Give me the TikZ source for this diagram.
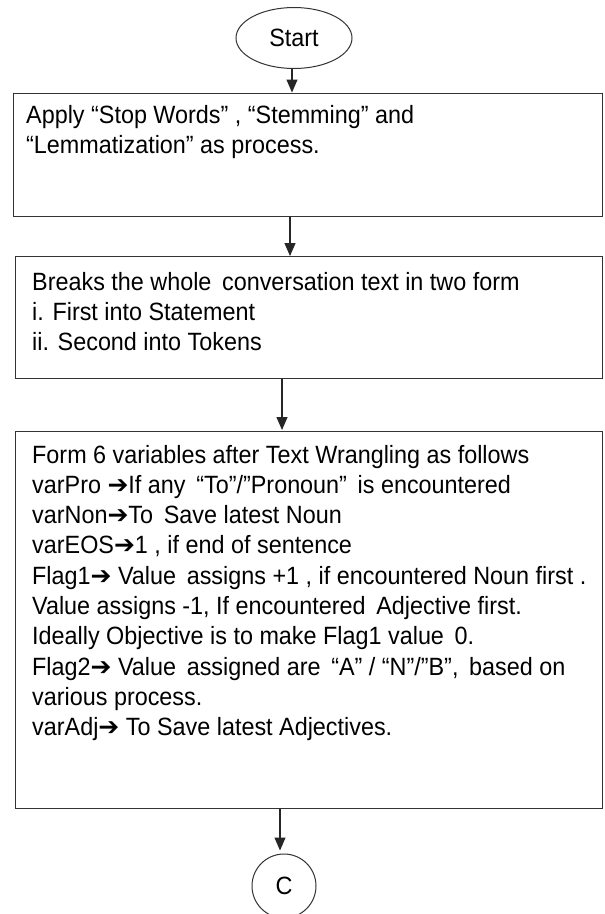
\documentclass[tikz,border=0pt]{standalone}
\usepackage{fontspec}
\setmainfont[FakeStretch=0.935]{Liberation Sans}
\newfontfamily\symf{DejaVu Sans}
\usetikzlibrary{shapes.geometric,arrows.meta}
\newcommand{\rarr}{{\symf\bfseries\char"2794}}
\newcommand{\mainsz}{\fontsize{25}{30.3}\selectfont}
\tikzset{
  procbox/.style={draw=black!80, line width=1.4pt, rectangle, inner sep=0pt},
  flowarrow/.style={draw=black!85, line width=1.2pt, -{Triangle[width=11pt,length=13pt]}},
  txt/.style={anchor=base west, inner sep=0pt, font=\mainsz},
  termshape/.style={draw=black!80, line width=1pt, ellipse, inner sep=0pt, font=\fontsize{25}{28}\selectfont},
  connshape/.style={draw=black!80, line width=1pt, circle, inner sep=0pt, font=\fontsize{25}{28}\selectfont}
}
\begin{document}
\begin{tikzpicture}[x=1pt,y=-1pt]
\useasboundingbox (0,0) rectangle (605,914);
\fill[white] (0,0) rectangle (605,914);

\node[termshape, minimum width=116pt, minimum height=61pt] (start) at (294,38) {Start};

\node[procbox, anchor=north west, minimum width=589pt, minimum height=123pt] (b1) at (13,92.5) {};
\node[txt] (t1) at (26,123) {\parbox[t]{570pt}{\mainsz Apply “Stop Words” , “Stemming” and\\
“Lemmatization” as process.}};

\node[procbox, anchor=north west, minimum width=587pt, minimum height=122pt] (b2) at (15,256) {};
\node[txt] (t2) at (32,290) {\parbox[t]{565pt}{\mainsz Breaks the whole\, conversation text in two form\\
i. First into Statement\\
ii. Second into Tokens}};

\node[procbox, anchor=north west, minimum width=587pt, minimum height=377pt] (b3) at (15,431) {};
\node[txt] (t3) at (32,463) {\parbox[t]{568pt}{\mainsz Form 6 variables after Text Wrangling as follows\\
varPro \rarr If any \,“To”/”Pronoun”\, is encountered\\
varNon\rarr To\, Save latest Noun\\
varEOS\rarr 1 , if end of sentence\\
Flag1\rarr\ Value\, assigns +1 , if encountered Noun first .\\
Value assigns -1, If encountered\, Adjective first.\\
Ideally Objective is to make Flag1 value\, 0.\\
Flag2\rarr\ Value\, assigned are\, “A” / “N”/”B”,\, based on\\
various process.\\
varAdj\rarr\ To Save latest Adjectives.}};

\node[connshape, minimum size=64pt] (c) at (284,886) {C};

\coordinate (x12) at (290,0);
\coordinate (x23) at (282,0);
\coordinate (x3c) at (280,0);

\draw[flowarrow] (start.south -| 292,0) -- (b1.north -| 292,0);
\draw[flowarrow] (b1.south -| x12) -- (b2.north -| x12);
\draw[flowarrow, shorten >=1pt] (b2.south -| x23) -- (b3.north -| x23);
\draw[flowarrow, shorten >=3pt] (b3.south -| x3c) -- (c.north -| x3c);
\end{tikzpicture}
\end{document}
